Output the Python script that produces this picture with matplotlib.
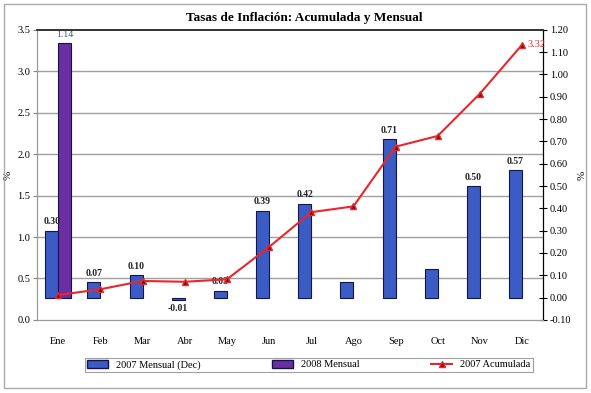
import matplotlib.pyplot as plt
import numpy as np
from matplotlib.patches import Rectangle
from matplotlib.lines import Line2D

plt.rcParams['font.family'] = ['Liberation Serif', 'DejaVu Serif']

# data
months = ['Ene', 'Feb', 'Mar', 'Abr', 'May', 'Jun', 'Jul', 'Ago', 'Sep', 'Oct', 'Nov', 'Dic']
monthly_2007 = [0.30, 0.07, 0.10, -0.01, 0.03, 0.39, 0.42, 0.07, 0.71, 0.13, 0.50, 0.57]
labels_2007 = ['0.30', '0.07', '0.10', '-0.01', '0.03', '0.39', '0.42', '', '0.71', '', '0.50', '0.57']
monthly_2008 = [1.14]
cumul_2007 = [0.30, 0.37, 0.47, 0.46, 0.49, 0.88, 1.30, 1.37, 2.09, 2.22, 2.73, 3.32]

left_ticks = np.arange(0, 3.51, 0.5)
right_ticks = np.arange(-0.10, 1.201, 0.10)

blue = '#3a5cc4'
purple = '#6b2fa3'
red = '#e8262b'

fig = plt.figure(figsize=(5.91, 3.93), dpi=100)
fig.patches.append(Rectangle((0.006, 0.013), 0.985, 0.978, transform=fig.transFigure,
                             fill=False, edgecolor='#aaaaaa', lw=1))

ax_r = fig.add_axes([0.063, 0.186, 0.856, 0.738])
ax_l = ax_r.twinx()

x = np.arange(len(months))
w = 0.31

# grid lines follow the left axis ticks
for v in left_ticks[1:-1]:
    ax_r.plot([0, 1], [v / 3.5, v / 3.5], transform=ax_r.transAxes,
              color='#a0a0a0', lw=1, zorder=0)

ax_r.bar(x - w / 2, monthly_2007, width=w, color=blue, edgecolor='#15154a', lw=0.8, zorder=2)
ax_r.bar(x[:len(monthly_2008)] + w / 2, monthly_2008, width=w, color=purple,
         edgecolor='#15154a', lw=0.8, zorder=2)

for xi, v, t in zip(x, monthly_2007, labels_2007):
    if not t:
        continue
    off = 0.02 if v >= 0 else -0.02
    ax_r.text(xi - w / 2, v + off, t, ha='center', va='bottom' if v >= 0 else 'top',
              fontsize=7, fontweight='bold', color='#222222', zorder=3)
for xi, v in zip(x, monthly_2008):
    ax_r.text(xi + w / 2, v + 0.02, f'{v:.2f}', ha='center', va='bottom',
              fontsize=7, color='#445577', zorder=3)

ax_r.set_ylim(-0.10, 1.20)
ax_r.set_yticks(right_ticks)
ax_r.set_yticklabels([f'{t:.2f}' for t in right_ticks])
ax_r.yaxis.tick_right()
ax_r.tick_params(axis='y', direction='inout', length=6, labelsize=7.5, color='black', pad=2)
ax_r.set_ylabel('%', fontsize=8)
ax_r.yaxis.set_label_position('right')
ax_r.yaxis.set_label_coords(1.069, 0.5)

ax_r.set_xlim(-0.5, len(months) - 0.5)
ax_r.set_xticks(x)
ax_r.set_xticklabels(months, fontsize=7.5)
ax_r.tick_params(axis='x', length=0, pad=12)

ax_l.plot(x, cumul_2007, color=red, lw=1.5, marker='^', markersize=5,
          markerfacecolor='#7a1010', markeredgecolor=red, zorder=4)
ax_l.text(x[-1] + 0.12, cumul_2007[-1], f'{cumul_2007[-1]:.2f}', color=red,
          fontsize=7.5, va='center', ha='left')
ax_l.set_ylim(0, 3.5)
ax_l.set_yticks(left_ticks)
ax_l.set_yticklabels([f'{t:.1f}' for t in left_ticks])
ax_l.yaxis.tick_left()
ax_l.tick_params(axis='y', length=3, labelsize=7.5, color='#888888', pad=2)
ax_l.set_ylabel('%', fontsize=8)
ax_l.yaxis.set_label_position('left')
ax_l.yaxis.set_label_coords(-0.049, 0.5)

for a in (ax_r, ax_l):
    a.spines['left'].set_color('#999999')
    a.spines['bottom'].set_color('#999999')
    a.spines['top'].set_color('#333333')
    a.spines['top'].set_linewidth(1.2)
    a.spines['right'].set_color('black')

fig.text(0.515, 0.955, 'Tasas de Inflación: Acumulada y Mensual', ha='center', va='center',
         fontsize=9.5, fontweight='bold')

handles = [Rectangle((0, 0), 1, 1, facecolor=blue, edgecolor='#15154a'),
           Rectangle((0, 0), 1, 1, facecolor=purple, edgecolor='#15154a'),
           Line2D([], [], color=red, lw=1.5, marker='^', markersize=5,
                  markerfacecolor='#7a1010', markeredgecolor=red)]
leg = fig.legend(handles, ['2007 Mensual (Dec)', '2008 Mensual', '2007 Acumulada'],
                 ncol=3, loc='center', bbox_to_anchor=(0.135, 0.05, 0.775, 0.044),
                 mode='expand', fontsize=7.5, frameon=True, fancybox=False,
                 handlelength=2, handleheight=0.8, borderpad=0.2, columnspacing=3)
leg.get_frame().set_edgecolor('#888888')
leg.get_frame().set_linewidth(0.8)

fig.savefig('out.png', dpi=100)
